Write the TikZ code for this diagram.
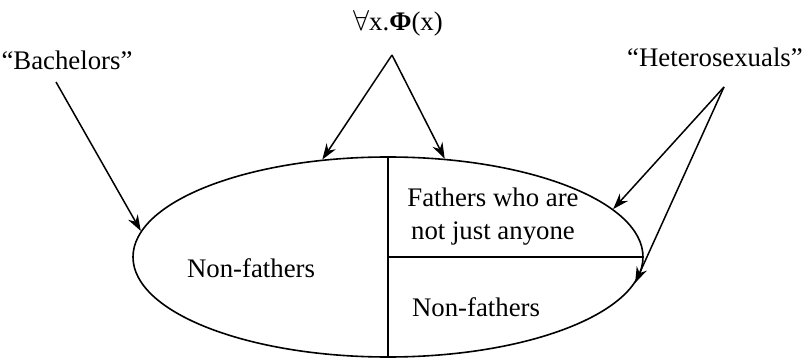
\documentclass[tikz,border=0pt]{standalone}
\usepackage{fontspec}
\setmainfont{Liberation Serif}
\usetikzlibrary{shapes.geometric,arrows.meta,positioning}

\begin{document}
\begin{tikzpicture}[x=0.5pt,y=-0.5pt,
  lbl/.style={font=\fontsize{13.4}{16.5}\selectfont, inner sep=0pt, align=center},
  pointer/.style={-{Stealth[length=8pt,width=5.5pt]}, line width=0.75pt}
]
  \useasboundingbox (0,0) rectangle (804,358);
  % the set of men
  \node[ellipse, draw, line width=0.8pt, minimum width=255pt, minimum height=100pt, inner sep=0pt] (oval) at (388,257) {};
  \draw[line width=0.8pt] (oval.north) -- (oval.south);
  \draw[line width=0.8pt] (oval.center) -- (oval.east);

  \node[lbl] (nonleft) at (251,268) {Non-fathers};
  \node[lbl] (fathers) at (493,217) {Fathers who are\\not just anyone};
  \node[lbl] (nonright) at (476,307) {Non-fathers};

  % labels and pointers
  \node[lbl] (quant) at (398,23) {$\forall$x.\textbf{Φ}(x)};
  \node[lbl] (bach) at (67,60) {“Bachelors”};
  \node[lbl] (hetero) at (715,57) {“Heterosexuals”};
  \coordinate (quanttip) at (392,55);
  \coordinate (bachtip) at (56,82);
  \coordinate (heterotip) at (724,87);

  \draw[pointer] (quanttip) -- (oval.124);
  \draw[pointer] (quanttip) -- (oval.60);
  \draw[pointer] (bachtip) -- (oval.174);
  \draw[pointer] (heterotip) -- (oval.12);
  \draw[pointer] (heterotip) -- (oval.354);
\end{tikzpicture}
\end{document}
